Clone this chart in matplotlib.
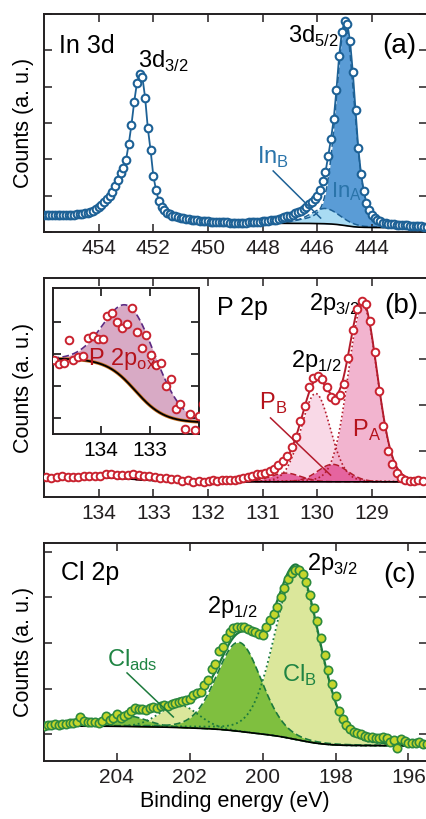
import numpy as np
import matplotlib
matplotlib.use("Agg")
import matplotlib.pyplot as plt
from matplotlib.ticker import MultipleLocator

plt.rcParams['font.family'] = ['Liberation Sans', 'DejaVu Sans']
plt.rcParams['axes.linewidth'] = 1.4
plt.rcParams['axes.edgecolor'] = '#231f20'

# ---------------- data ----------------
# (a) In 3d, 0.1 eV steps starting at 456.0 eV
counts_a = [0.47, 0.47, 0.47, 0.47, 0.47, 0.47, 0.47, 0.47, 0.47, 0.47,
            0.48, 0.48, 0.49, 0.49, 0.50, 0.51, 0.53, 0.56, 0.59, 0.63,
            0.68, 0.75, 0.83, 0.91, 0.99, 1.10, 1.26, 1.44, 1.62, 1.76,
            1.98, 2.42, 2.95, 3.58, 4.10, 4.34, 4.26, 3.70, 2.85, 2.25,
            1.55, 1.15, 0.86, 0.70, 0.60, 0.53, 0.49, 0.45, 0.43, 0.41,
            0.39, 0.38, 0.36, 0.35, 0.34, 0.33, 0.32, 0.31, 0.30, 0.29,
            0.29, 0.28, 0.28, 0.28, 0.27, 0.27, 0.27, 0.27, 0.26, 0.26,
            0.26, 0.26, 0.26, 0.26, 0.26, 0.27, 0.27, 0.27, 0.28, 0.28,
            0.29, 0.30, 0.31, 0.32, 0.33, 0.34, 0.36, 0.38, 0.40, 0.43,
            0.45, 0.48, 0.51, 0.55, 0.59, 0.64, 0.70, 0.76, 0.83, 0.91,
            1.00, 1.15, 1.40, 1.65, 2.10, 2.55, 3.10, 3.90, 4.85, 5.50,
            5.80, 5.72, 5.25, 4.40, 3.35, 2.30, 1.60, 1.12, 0.80, 0.60,
            0.46, 0.38, 0.33, 0.29, 0.26, 0.24, 0.23, 0.22, 0.21, 0.20,
            0.19, 0.19, 0.18, 0.18, 0.17, 0.17, 0.16, 0.16, 0.16, 0.15,
            0.15]
ticks_a = [454, 452, 450, 448, 446, 444]
# fit components In 3d5/2: centre, height, fwhm, lorentz fraction
inA = (444.98, 5.55, 0.80, 0.35)
inB = (445.72, 0.42, 1.30, 0.30)
bg_a_low, bg_a_high = 0.12, 0.24

# (b) P 2p: 0.1 eV steps from 134.97, then 0.08 eV steps from 131.99
counts_b1 = [0.428, 0.422, 0.424, 0.459, 0.428, 0.432, 0.435, 0.462, 0.465, 0.461,
             0.461, 0.496, 0.502, 0.487, 0.478, 0.485, 0.509, 0.471, 0.447, 0.467,
             0.436, 0.420, 0.423, 0.388, 0.399, 0.352, 0.359, 0.320, 0.344, 0.319]
counts_b2 = [0.34, 0.36, 0.35, 0.37, 0.36, 0.38, 0.37, 0.40, 0.41, 0.44,
             0.45, 0.49, 0.51, 0.53, 0.57, 0.60, 0.69, 0.78, 0.89, 1.08,
             1.30, 1.66, 1.98, 2.40, 2.58, 2.62, 2.56, 2.40, 2.18, 2.10,
             2.22, 2.45, 3.02, 3.62, 4.08, 4.25, 4.20, 3.82, 3.15, 2.30,
             1.55, 1.00, 0.72, 0.52, 0.42, 0.37, 0.35, 0.34, 0.36, 0.34]
ticks_b = [134, 133, 132, 131, 130, 129]
ticks_inset = [134, 133]
pA32 = (129.17, 3.85, 0.63, 0.10)
pA12 = (130.03, 1.92, 0.63, 0.10)
pB32 = (129.72, 0.38, 0.65, 0.10)
pB12 = (130.58, 0.19, 0.65, 0.10)
pOx = (133.35, 0.1225, 1.25, 0.0)
bg_b_low, bg_b_step, bg_b_centre, bg_b_width = 0.33, 0.1005, 133.3, 0.30

# (c) Cl 2p, 0.1 eV steps starting at 206.0 eV
counts_c = [0.18, 0.20, 0.21, 0.22, 0.21, 0.23, 0.22, 0.24, 0.25, 0.27,
            0.37, 0.30, 0.28, 0.28, 0.26, 0.24, 0.30, 0.40, 0.31, 0.36,
            0.44, 0.36, 0.40, 0.45, 0.52, 0.57, 0.56, 0.55, 0.53, 0.58,
            0.60, 0.57, 0.62, 0.64, 0.62, 0.66, 0.68, 0.71, 0.73, 0.75,
            0.78, 0.86, 0.91, 0.93, 1.08, 1.20, 1.42, 1.55, 1.82, 1.92,
            2.10, 2.25, 2.32, 2.35, 2.35, 2.34, 2.31, 2.27, 2.24, 2.20,
            2.18, 2.34, 2.50, 2.64, 2.78, 3.00, 3.20, 3.40, 3.54, 3.60,
            3.59, 3.52, 3.34, 3.05, 2.76, 2.48, 2.12, 1.74, 1.40, 1.10,
            0.85, 0.52, 0.33, 0.20, 0.12, 0.06, 0.02, 0.00, -0.04, -0.05,
            -0.06, -0.08, -0.09, -0.06, -0.07, -0.16, -0.12, -0.31, -0.10, -0.15,
            -0.18, -0.19, -0.20, -0.17, -0.22, -0.21]
ticks_c = [204, 202, 200, 198, 196]
clB32 = (199.05, 3.72, 1.45, 0.15)
clB12 = (200.65, 1.95, 1.45, 0.15)
clA32 = (202.30, 0.50, 1.25, 0.10)
clA12 = (203.70, 0.23, 1.25, 0.10)
bg_c_low, bg_c_high = -0.25, 0.18

# ---------------- helpers ----------------
def pv(E, comp):
    c, h, w, eta = comp
    x = (E - c) / w
    return h * (eta / (1 + 4 * x**2) + (1 - eta) * np.exp(-4 * np.log(2) * x**2))

def shirley(peak, lo, hi):
    cum = np.cumsum(peak[::-1])[::-1]
    return lo + (hi - lo) * cum / cum[0]

W, H = 426, 819
fig = plt.figure(figsize=(W / 100, H / 100), dpi=100)

def make_ax(top, bottom, left=44, right=426.6):
    return fig.add_axes([left / W, 1 - bottom / H, (right - left) / W, (bottom - top) / H])

def style(ax, xticks, left=True):
    ax.set_xticks(xticks)
    ax.yaxis.set_major_locator(MultipleLocator(1))
    ax.tick_params(direction='in', top=True, right=True, left=left, length=6, width=1.1,
                   labelsize=15, labelleft=False, pad=5, colors='#231f20')

FS = 15.5      # axis labels
FL = 17        # peak labels
FT = 18        # panel titles
FP = 20        # (a), (b), (c)
blue = '#1d6196'
red = '#b31b2c'
green = '#1c7a3c'

# ---------------- (a) ----------------
ax = make_ax(14, 232)
E_a = 456.0 - 0.1 * np.arange(len(counts_a))
Ef = np.linspace(447.8, 442.0, 500)
ya, yb = pv(Ef, inA), pv(Ef, inB)
bg = shirley(ya + yb, bg_a_low, bg_a_high)
ax.fill_between(Ef, bg, bg + ya, color='#5a9cd6', lw=0, zorder=1)
ax.fill_between(Ef, bg, bg + yb, color='#a9dbf3', lw=0, zorder=2)
ax.plot(Ef, bg + ya, color=blue, lw=1.1, ls=(0, (4, 2)), zorder=3)
ax.plot(Ef, bg + yb, color=blue, lw=1.1, ls=(0, (4, 2)), zorder=3)
ax.plot(Ef, bg, color='k', lw=1.2, zorder=3)
ax.plot(E_a, counts_a, '-', color=blue, lw=1.3, zorder=4)
ax.plot(E_a, counts_a, 'o', ms=5.5, mfc='white', mec=blue, mew=1.5, zorder=5)
ax.set_xlim(456, 442)
ax.set_ylim(0, 6)
style(ax, ticks_a)
ax.text(0.040, 0.821, 'In 3d', transform=ax.transAxes, fontsize=FT, va='baseline')
ax.text(0.973, 0.821, '(a)', transform=ax.transAxes, fontsize=FP, va='baseline', ha='right')
ax.text(0.246, 0.752, r'3d$_{\mathregular{3/2}}$', transform=ax.transAxes, fontsize=FL, va='baseline')
ax.text(0.637, 0.867, r'3d$_{\mathregular{5/2}}$', transform=ax.transAxes, fontsize=FL, va='baseline')
ax.text(0.557, 0.312, r'In$_{\mathregular{B}}$', transform=ax.transAxes, fontsize=FL,
        va='baseline', color='#2a74aa')
ax.text(0.749, 0.161, r'In$_{\mathregular{A}}$', transform=ax.transAxes, fontsize=16,
        va='baseline', color='#2a74aa', zorder=6)
ax.plot([0.599, 0.723], [0.280, 0.064], transform=ax.transAxes, color=blue, lw=1.1, zorder=6)
fig.text(23 / W, 1 - 123 / H, 'Counts (a. u.)', rotation=90, ha='center', va='center', fontsize=FS)

# ---------------- (b) ----------------
ax = make_ax(278, 497)
E_b = np.concatenate([134.97 - 0.1 * np.arange(len(counts_b1)),
                      131.99 - 0.08 * np.arange(len(counts_b2))])
counts_b = counts_b1 + counts_b2
Ef = np.linspace(135.0, 128.0, 1400)
bg = bg_b_low + bg_b_step / (1 + np.exp(-(Ef - bg_b_centre) / bg_b_width))
a32, a12, b32, b12, ox = (pv(Ef, p) for p in (pA32, pA12, pB32, pB12, pOx))
env = bg + a32 + a12 + b32 + b12 + ox
ax.fill_between(Ef, bg, bg + a12, color='#f9d9e7', lw=0, zorder=1)
ax.fill_between(Ef, bg, bg + a32, color='#f2b4cf', lw=0, zorder=1.5)
ax.fill_between(Ef, bg, bg + b12, color='#e5649f', lw=0, zorder=2)
ax.fill_between(Ef, bg, bg + b32, color='#e5649f', lw=0, zorder=2)
ax.fill_between(Ef, bg, bg + ox, color='#d8aac5', lw=0, zorder=2)
for comp in (a32, a12):
    ax.plot(Ef, bg + comp, color=red, lw=1.2, ls=(0, (1, 1.5)), zorder=3)
for comp in (b32, b12):
    ax.plot(Ef, bg + comp, color=red, lw=1.1, ls=(0, (4, 2)), zorder=3)
ax.plot(Ef, bg, color='k', lw=1.2, zorder=3)
ax.plot(Ef, env, color=red, lw=1.4, zorder=4)
ax.plot(E_b, counts_b, 'o', ms=5.5, mfc='white', mec='#c9222f', mew=1.4, zorder=5)
ax.set_xlim(135, 128)
ax.set_ylim(0, 219 / 46)
style(ax, ticks_b, left=False)
ax.text(0.451, 0.831, 'P 2p', transform=ax.transAxes, fontsize=FT, va='baseline')
ax.text(0.978, 0.840, '(b)', transform=ax.transAxes, fontsize=FP, va='baseline', ha='right')
ax.text(0.692, 0.854, r'2p$_{\mathregular{3/2}}$', transform=ax.transAxes, fontsize=FL, va='baseline')
ax.text(0.645, 0.594, r'2p$_{\mathregular{1/2}}$', transform=ax.transAxes, fontsize=FL, va='baseline')
ax.text(0.562, 0.397, r'P$_{\mathregular{B}}$', transform=ax.transAxes, fontsize=FL,
        va='baseline', color='#b5121b')
ax.text(0.806, 0.274, r'P$_{\mathregular{A}}$', transform=ax.transAxes, fontsize=FL,
        va='baseline', color='#b5121b', zorder=6)
ax.plot([0.592, 0.749], [0.361, 0.100], transform=ax.transAxes, color=red, lw=1.1, zorder=6)
fig.text(23 / W, 1 - 387.5 / H, 'Counts (a. u.)', rotation=90, ha='center', va='center', fontsize=FS)

# inset
ins = make_ax(288.3, 434, left=52.5, right=198.5)
ins.fill_between(Ef, bg, bg + ox, color='#d8aac5', lw=0, zorder=1)
ins.plot(Ef, bg, color='#c8701e', lw=2.4, zorder=2)
ins.plot(Ef, bg, color='k', lw=1.3, zorder=2.5)
ins.plot(Ef, bg + ox, color='#5c2a82', lw=1.2, ls=(0, (4, 2)), zorder=3)
ins.plot(E_b, counts_b, 'o', ms=5.5, mfc='white', mec='#c9222f', mew=1.4, zorder=5)
ins.set_xlim(135, 132)
ins.set_ylim(0.3125, 0.3125 + 0.05 * 4.55)
ins.set_xticks(ticks_inset)
ins.set_yticks(0.3125 + 0.05 * (np.arange(4) + 0.51))
ins.tick_params(direction='in', top=True, right=True, length=6, width=1.1,
                labelsize=15, labelleft=False, pad=5)
ins.text(0.245, 0.474, r'P 2p$_{\mathregular{ox}}$', transform=ins.transAxes, fontsize=FL,
         va='baseline', color='#b5121b', zorder=6)

# ---------------- (c) ----------------
ax = make_ax(543, 761)
E_c = 206.0 - 0.1 * np.arange(len(counts_c))
Ef = np.linspace(206.0, 195.5, 1200)
b32, b12, a32, a12 = (pv(Ef, p) for p in (clB32, clB12, clA32, clA12))
bg = shirley(b32 + b12 + a32 + a12, bg_c_low, bg_c_high)
env = bg + b32 + b12 + a32 + a12
ax.fill_between(Ef, bg, bg + b32, color='#dbe79b', lw=0, zorder=1)
ax.fill_between(Ef, bg, bg + a32, color='#dbe79b', lw=0, zorder=1)
ax.fill_between(Ef, bg, bg + b12, color='#7fbf3f', lw=0, zorder=2)
ax.fill_between(Ef, bg, bg + a12, color='#7fbf3f', lw=0, zorder=2)
for comp in (b32, a32):
    ax.plot(Ef, bg + comp, color=green, lw=1.3, ls=(0, (1, 1.6)), zorder=3)
for comp in (b12, a12):
    ax.plot(Ef, bg + comp, color=green, lw=1.2, ls=(0, (4, 2)), zorder=3)
ax.plot(Ef, bg, color='k', lw=1.2, zorder=3)
ax.plot(Ef, env, color=green, lw=1.6, zorder=4)
ax.plot(E_c, counts_c, 'o', ms=6, mfc='#c6d62c', mec='#2d8a3e', mew=1.2, zorder=5)
ax.set_xlim(206, 195.5)
ax.set_ylim(-0.584, 4.19)
style(ax, ticks_c)
ax.text(0.045, 0.830, 'Cl 2p', transform=ax.transAxes, fontsize=FT, va='baseline')
ax.text(0.973, 0.821, '(c)', transform=ax.transAxes, fontsize=FP, va='baseline', ha='right')
ax.text(0.688, 0.876, r'2p$_{\mathregular{3/2}}$', transform=ax.transAxes, fontsize=FL, va='baseline')
ax.text(0.426, 0.679, r'2p$_{\mathregular{1/2}}$', transform=ax.transAxes, fontsize=FL, va='baseline')
ax.text(0.165, 0.431, r'Cl$_{\mathregular{ads}}$', transform=ax.transAxes, fontsize=FL,
        va='baseline', color='#1f8443')
ax.text(0.623, 0.362, r'Cl$_{\mathregular{B}}$', transform=ax.transAxes, fontsize=FL,
        va='baseline', color='#1f8443', zorder=6)
ax.plot([0.217, 0.338], [0.404, 0.202], transform=ax.transAxes, color=green, lw=1.1, zorder=6)
fig.text(23 / W, 1 - 652 / H, 'Counts (a. u.)', rotation=90, ha='center', va='center', fontsize=FS)
fig.text(235 / W, 1 - 802 / H, 'Binding energy (eV)', ha='center', va='center', fontsize=FS)

fig.savefig('out.png', dpi=100)
